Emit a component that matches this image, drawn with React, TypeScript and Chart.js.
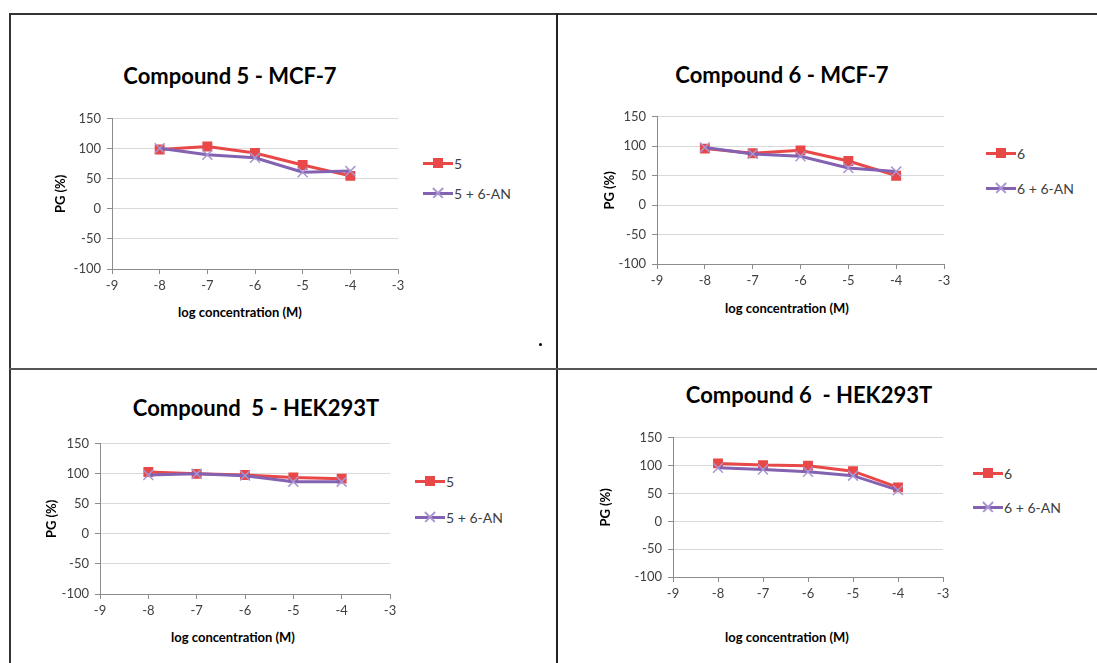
import React, { useEffect, useRef } from 'react';
import { Chart, registerables } from 'chart.js';
Chart.register(...registerables);

// ---- data ----
const concentrations = [-8, -7, -6, -5, -4];
const xTicksMin = -9;
const xTicksMax = -3;
const yTicksMin = -100;
const yTicksMax = 150;

const c5Mcf7 = [99, 104, 93, 73, 55];
const c5AnMcf7 = [101, 90, 85, 61, 63];
const c6Mcf7 = [96, 88, 93, 75, 50];
const c6AnMcf7 = [98, 87, 83, 63, 57];
const c5Hek = [103, 100, 98, 94, 92];
const c5AnHek = [98, 100, 97, 87, 87];
const c6Hek = [104, 101, 100, 90, 61];
const c6AnHek = [96, 93, 89, 82, 56];

const titles = ['Compound 5 - MCF-7', 'Compound 6 - MCF-7', 'Compound  5 - HEK293T', 'Compound 6  - HEK293T'];
const seriesLabels = ['5', '6', '5', '6'];
const seriesA = [c5Mcf7, c6Mcf7, c5Hek, c6Hek];
const seriesB = [c5AnMcf7, c6AnMcf7, c5AnHek, c6AnHek];

// ---- styles / layout ----
const RED = '#E84848';
const PURPLE = '#8462B2';
const LAV = '#A995D2';
const GRID = '#D9D9D9';
const AXIS = '#8C8C8C';
const TICK = '#404040';
const FONT = 'Lato, "Open Sans", sans-serif';

const layouts = [
  { L: 112, R: 398, T: 117, B: 269, titleX: 230, titleY: 76, yTitleX: 61, xTitleX: 240, xTitleY: 312, legX: 423, legY1: 163, legY2: 193 },
  { L: 657, R: 944, T: 115, B: 264, titleX: 782, titleY: 75, yTitleX: 610, xTitleX: 787, xTitleY: 308, legX: 986, legY1: 153, legY2: 188 },
  { L: 100, R: 390, T: 442, B: 594, titleX: 256, titleY: 408, yTitleX: 52, xTitleX: 233, xTitleY: 637, legX: 415, legY1: 481, legY2: 517 },
  { L: 673, R: 943, T: 436, B: 577, titleX: 809, titleY: 395, yTitleX: 606, xTitleX: 787, xTitleY: 637, legX: 973, legY1: 473, legY2: 507 },
];

function Panel({ idx }: { idx: number }) {
  const ref = useRef<HTMLCanvasElement>(null);
  const lay = layouts[idx];
  const canvasLeft = Math.round(lay.yTitleX - 8);
  const yWidth = lay.L - canvasLeft;
  const padTop = 12;
  const padRight = 16;
  const xHeight = 26;
  const canvasTop = lay.T - padTop;
  const w = lay.R - lay.L + yWidth + padRight;
  const h = lay.B - lay.T + padTop + xHeight;

  useEffect(() => {
    const chart = new Chart(ref.current as HTMLCanvasElement, {
      type: 'line',
      data: {
        datasets: [
          {
            label: seriesLabels[idx],
            data: concentrations.map((x, i) => ({ x, y: seriesA[idx][i] })),
            borderColor: RED,
            backgroundColor: RED,
            borderWidth: 3,
            pointStyle: 'rect',
            pointRadius: 7,
            pointBackgroundColor: RED,
            pointBorderColor: RED,
            pointBorderWidth: 0,
            tension: 0,
            order: 1,
          },
          {
            label: seriesLabels[idx] + ' + 6-AN',
            data: concentrations.map((x, i) => ({ x, y: seriesB[idx][i] })),
            borderColor: PURPLE,
            backgroundColor: PURPLE,
            borderWidth: 3,
            pointStyle: 'crossRot',
            pointRadius: 7,
            pointBorderColor: LAV,
            pointBorderWidth: 1.5,
            tension: 0,
            order: 0,
          },
        ],
      },
      options: {
        animation: false,
        responsive: false,
        maintainAspectRatio: false,
        layout: { padding: { top: padTop, right: padRight, left: 0, bottom: 0 } },
        plugins: { legend: { display: false }, tooltip: { enabled: false } },
        scales: {
          x: {
            type: 'linear',
            min: xTicksMin,
            max: xTicksMax,
            ticks: { stepSize: 1, color: TICK, font: { family: FONT, size: 13 }, padding: 4 },
            grid: { drawOnChartArea: false, drawTicks: true, tickLength: 5, tickColor: AXIS },
            border: { color: AXIS, width: 1 },
            afterFit: (s: any) => { s.height = xHeight; },
          },
          y: {
            type: 'linear',
            min: yTicksMin,
            max: yTicksMax,
            ticks: { stepSize: 50, color: TICK, font: { family: FONT, size: 13 }, padding: 6 },
            grid: { color: GRID, drawTicks: true, tickLength: 5, tickColor: AXIS },
            border: { color: AXIS, width: 1 },
            title: { display: true, text: 'PG (%)', color: '#000', font: { family: FONT, size: 13, weight: 'bold' }, padding: 0 },
            afterFit: (s: any) => { s.width = yWidth; },
          },
        },
      },
    } as any);
    return () => chart.destroy();
  }, []);

  const legendRow = (y: number, color: string, text: string, cross: boolean) => (
    <div style={{ position: 'absolute', left: lay.legX, top: y - 9, height: 18, display: 'flex', alignItems: 'center' }}>
      <div style={{ position: 'relative', width: 30, height: 16 }}>
        <div style={{ position: 'absolute', left: 0, top: 6.5, width: 30, height: 3, background: color }} />
        {cross ? (
          <>
            <div style={{ position: 'absolute', left: 8, top: 7.25, width: 14, height: 1.5, background: LAV, transform: 'rotate(45deg)' }} />
            <div style={{ position: 'absolute', left: 8, top: 7.25, width: 14, height: 1.5, background: LAV, transform: 'rotate(-45deg)' }} />
          </>
        ) : (
          <div style={{ position: 'absolute', left: 10, top: 3, width: 10, height: 10, background: RED }} />
        )}
      </div>
      <span style={{ fontFamily: FONT, fontSize: 14, color: TICK, marginLeft: 1, whiteSpace: 'pre' }}>{text}</span>
    </div>
  );

  return (
    <>
      <div style={{ position: 'absolute', left: lay.titleX, top: lay.titleY - 14, transform: 'translateX(-50%)', fontFamily: FONT, fontWeight: 'bold', fontSize: 22, lineHeight: '28px', whiteSpace: 'pre', color: '#000' }}>
        {titles[idx]}
      </div>
      <canvas ref={ref} width={w} height={h} style={{ position: 'absolute', left: canvasLeft, top: canvasTop, width: w, height: h }} />
      <div style={{ position: 'absolute', left: lay.xTitleX, top: lay.xTitleY - 9, transform: 'translateX(-50%)', fontFamily: FONT, fontWeight: 'bold', fontSize: 13, lineHeight: '18px', whiteSpace: 'pre', color: '#000' }}>
        log concentration (M)
      </div>
      {legendRow(lay.legY1, RED, seriesLabels[idx], false)}
      {legendRow(lay.legY2, PURPLE, seriesLabels[idx] + ' + 6-AN', true)}
    </>
  );
}

export default function App() {
  return (
    <div style={{ position: 'fixed', left: 0, top: 0, width: 1097, height: 663, background: '#fff', overflow: 'hidden' }}>
      <div style={{ position: 'absolute', left: 9, top: 13, width: 1088, height: 2, background: '#333' }} />
      <div style={{ position: 'absolute', left: 9, top: 13, width: 2, height: 650, background: '#333' }} />
      <div style={{ position: 'absolute', left: 556, top: 13, width: 2, height: 650, background: '#222' }} />
      <div style={{ position: 'absolute', left: 9, top: 368, width: 1088, height: 2, background: '#555' }} />
      <div style={{ position: 'absolute', left: 539, top: 343, width: 3, height: 3, background: '#000', borderRadius: 2 }} />
      {[0, 1, 2, 3].map((i) => <Panel key={i} idx={i} />)}
    </div>
  );
}
